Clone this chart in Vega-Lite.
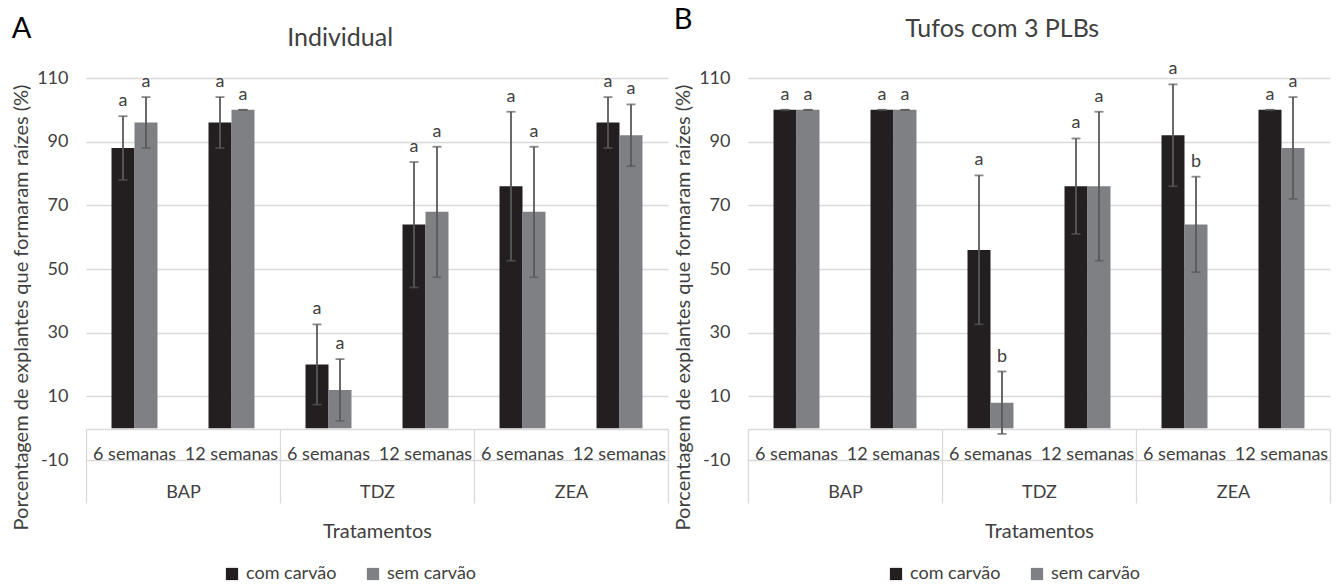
{
  "$schema": "https://vega.github.io/schema/vega-lite/v6.json",
  "padding": {"left": 11, "top": 6, "right": 4, "bottom": 0},
  "data": {"values": [
    {"panel":"A","treatment":"BAP","cell":"BAP|6 semanas","series":"com carvão","value":88,"low":78,"high":98,"letter":"a"},
    {"panel":"A","treatment":"BAP","cell":"BAP|6 semanas","series":"sem carvão","value":96,"low":88,"high":104,"letter":"a"},
    {"panel":"A","treatment":"BAP","cell":"BAP|12 semanas","series":"com carvão","value":96,"low":88,"high":104,"letter":"a"},
    {"panel":"A","treatment":"BAP","cell":"BAP|12 semanas","series":"sem carvão","value":100,"low":100,"high":100,"letter":"a"},
    {"panel":"A","treatment":"TDZ","cell":"TDZ|6 semanas","series":"com carvão","value":20,"low":7.4,"high":32.6,"letter":"a"},
    {"panel":"A","treatment":"TDZ","cell":"TDZ|6 semanas","series":"sem carvão","value":12,"low":2.3,"high":21.7,"letter":"a"},
    {"panel":"A","treatment":"TDZ","cell":"TDZ|12 semanas","series":"com carvão","value":64,"low":44.2,"high":83.6,"letter":"a"},
    {"panel":"A","treatment":"TDZ","cell":"TDZ|12 semanas","series":"sem carvão","value":68,"low":47.4,"high":88.4,"letter":"a"},
    {"panel":"A","treatment":"ZEA","cell":"ZEA|6 semanas","series":"com carvão","value":76,"low":52.6,"high":99.4,"letter":"a"},
    {"panel":"A","treatment":"ZEA","cell":"ZEA|6 semanas","series":"sem carvão","value":68,"low":47.4,"high":88.4,"letter":"a"},
    {"panel":"A","treatment":"ZEA","cell":"ZEA|12 semanas","series":"com carvão","value":96,"low":88,"high":104,"letter":"a"},
    {"panel":"A","treatment":"ZEA","cell":"ZEA|12 semanas","series":"sem carvão","value":92,"low":82.3,"high":101.7,"letter":"a"},
    {"panel":"B","treatment":"BAP","cell":"BAP|6 semanas","series":"com carvão","value":100,"low":100,"high":100,"letter":"a"},
    {"panel":"B","treatment":"BAP","cell":"BAP|6 semanas","series":"sem carvão","value":100,"low":100,"high":100,"letter":"a"},
    {"panel":"B","treatment":"BAP","cell":"BAP|12 semanas","series":"com carvão","value":100,"low":100,"high":100,"letter":"a"},
    {"panel":"B","treatment":"BAP","cell":"BAP|12 semanas","series":"sem carvão","value":100,"low":100,"high":100,"letter":"a"},
    {"panel":"B","treatment":"TDZ","cell":"TDZ|6 semanas","series":"com carvão","value":56,"low":32.6,"high":79.4,"letter":"a"},
    {"panel":"B","treatment":"TDZ","cell":"TDZ|6 semanas","series":"sem carvão","value":8,"low":-1.8,"high":17.8,"letter":"b"},
    {"panel":"B","treatment":"TDZ","cell":"TDZ|12 semanas","series":"com carvão","value":76,"low":61,"high":91,"letter":"a"},
    {"panel":"B","treatment":"TDZ","cell":"TDZ|12 semanas","series":"sem carvão","value":76,"low":52.6,"high":99.4,"letter":"a"},
    {"panel":"B","treatment":"ZEA","cell":"ZEA|6 semanas","series":"com carvão","value":92,"low":76,"high":108,"letter":"a"},
    {"panel":"B","treatment":"ZEA","cell":"ZEA|6 semanas","series":"sem carvão","value":64,"low":49,"high":79,"letter":"b"},
    {"panel":"B","treatment":"ZEA","cell":"ZEA|12 semanas","series":"com carvão","value":100,"low":100,"high":100,"letter":"a"},
    {"panel":"B","treatment":"ZEA","cell":"ZEA|12 semanas","series":"sem carvão","value":88,"low":72,"high":104,"letter":"a"}
  ]},
  "spacing": 4,
  "resolve": {"scale": {"color": "independent"}},
  "hconcat": [
    {
      "title": {"text": "A", "anchor": "start", "frame": "bounds", "fontSize": 29, "color": "#000000", "offset": -18},
      "resolve": {"scale": {"color": "independent"}},
      "vconcat": [
        {
          "width": 582, "height": 382,
          "title": {"text": "Individual", "anchor": "middle", "frame": "bounds", "fontSize": 25, "offset": 18},
          "transform": [{"filter": "datum.panel === 'A'"}],
          "resolve": {"scale": {"x": "independent"}, "axis": {"x": "independent"}},
          "layer": [
            {
              "encoding": {
                "x": {"field": "cell", "type": "nominal",
                  "scale": {"domain": ["BAP|6 semanas","BAP|12 semanas","TDZ|6 semanas","TDZ|12 semanas","ZEA|6 semanas","ZEA|12 semanas"], "paddingInner": 0.526, "paddingOuter": 0.263},
                  "axis": {"orient": "bottom", "offset": -31, "title": null, "domain": false, "ticks": false, "grid": false, "labelAngle": 0, "labelFontSize": 18, "labelBaseline": "alphabetic", "labelPadding": 30, "labelExpr": "split(datum.value, '|')[1]"}},
                "xOffset": {"field": "series", "type": "nominal", "scale": {"domain": ["com carvão","sem carvão"], "paddingInner": 0, "paddingOuter": 0}}
              },
              "layer": [
                {"mark": {"type": "bar"},
                 "encoding": {
                   "y": {"field": "value", "type": "quantitative", "title": "Porcentagem de explantes que formaram raízes (%)",
                     "scale": {"domain": [-10, 110]},
                     "axis": {"values": [-10,10,30,50,70,90,110], "labelExpr": "datum.value < 0 ? '-' + abs(datum.value) : datum.label", "grid": true, "gridColor": "#d9d9d9", "gridWidth": 1.3, "domain": false, "ticks": false, "labelFontSize": 18, "labelPadding": 18, "titleFontSize": 20, "titlePadding": 5, "titleY": 229}},
                   "color": {"field": "series", "type": "nominal", "scale": {"domain": ["com carvão","sem carvão"], "range": ["#231F20","#7F8083"]},
                     "legend": {"orient": "none", "legendX": 137, "legendY": 487, "direction": "horizontal", "title": null, "symbolType": "square", "symbolSize": 150, "symbolStrokeWidth": 0, "labelFontSize": 18, "labelColor": "#404040", "columnPadding": 27, "labelOffset": 5}}
                 }},
                {"mark": {"type": "rule", "color": "#595959", "strokeWidth": 1.8},
                 "encoding": {"y": {"field": "low", "type": "quantitative", "title": "Porcentagem de explantes que formaram raízes (%)"}, "y2": {"field": "high"}}},
                {"mark": {"type": "tick", "color": "#595959", "thickness": 1.8, "size": 9, "orient": "horizontal"},
                 "encoding": {"y": {"field": "low", "type": "quantitative", "title": "Porcentagem de explantes que formaram raízes (%)"}}},
                {"mark": {"type": "tick", "color": "#595959", "thickness": 1.8, "size": 9, "orient": "horizontal"},
                 "encoding": {"y": {"field": "high", "type": "quantitative", "title": "Porcentagem de explantes que formaram raízes (%)"}}},
                {"mark": {"type": "text", "dy": -10, "baseline": "alphabetic", "fontSize": 18, "color": "#404040"},
                 "encoding": {"y": {"field": "high", "type": "quantitative", "title": "Porcentagem de explantes que formaram raízes (%)"}, "text": {"field": "letter"}}}
              ]
            },
            {
              "mark": {"type": "tick", "opacity": 0},
              "encoding": {
                "x": {"field": "treatment", "type": "nominal",
                  "scale": {"domain": ["BAP","TDZ","ZEA"], "paddingInner": 0, "paddingOuter": 0},
                  "axis": {"orient": "bottom", "offset": -31, "title": "Tratamentos", "titleFontSize": 20, "titlePadding": 18, "domain": true, "domainColor": "#d9d9d9", "domainWidth": 1.3, "ticks": true, "tickBand": "extent", "tickSize": 74, "tickColor": "#d9d9d9", "tickWidth": 1.3, "grid": false, "labelAngle": 0, "labelFontSize": 18, "labelBaseline": "alphabetic", "labelPadding": -6}}
              }
            }
          ]
        }
      ]
    },
    {
      "title": {"text": "B", "anchor": "start", "frame": "bounds", "fontSize": 29, "color": "#000000", "offset": -18},
      "resolve": {"scale": {"color": "independent"}},
      "vconcat": [
        {
          "width": 582, "height": 382,
          "title": {"text": "Tufos com 3 PLBs", "anchor": "middle", "frame": "bounds", "fontSize": 25, "offset": 18},
          "transform": [{"filter": "datum.panel === 'B'"}],
          "resolve": {"scale": {"x": "independent"}, "axis": {"x": "independent"}},
          "layer": [
            {
              "encoding": {
                "x": {"field": "cell", "type": "nominal",
                  "scale": {"domain": ["BAP|6 semanas","BAP|12 semanas","TDZ|6 semanas","TDZ|12 semanas","ZEA|6 semanas","ZEA|12 semanas"], "paddingInner": 0.526, "paddingOuter": 0.263},
                  "axis": {"orient": "bottom", "offset": -31, "title": null, "domain": false, "ticks": false, "grid": false, "labelAngle": 0, "labelFontSize": 18, "labelBaseline": "alphabetic", "labelPadding": 30, "labelExpr": "split(datum.value, '|')[1]"}},
                "xOffset": {"field": "series", "type": "nominal", "scale": {"domain": ["com carvão","sem carvão"], "paddingInner": 0, "paddingOuter": 0}}
              },
              "layer": [
                {"mark": {"type": "bar"},
                 "encoding": {
                   "y": {"field": "value", "type": "quantitative", "title": "Porcentagem de explantes que formaram raízes (%)",
                     "scale": {"domain": [-10, 110]},
                     "axis": {"values": [-10,10,30,50,70,90,110], "labelExpr": "datum.value < 0 ? '-' + abs(datum.value) : datum.label", "grid": true, "gridColor": "#d9d9d9", "gridWidth": 1.3, "domain": false, "ticks": false, "labelFontSize": 18, "labelPadding": 18, "titleFontSize": 20, "titlePadding": 5, "titleY": 229}},
                   "color": {"field": "series", "type": "nominal", "scale": {"domain": ["com carvão","sem carvão"], "range": ["#231F20","#7F8083"]},
                     "legend": {"orient": "none", "legendX": 139, "legendY": 487, "direction": "horizontal", "title": null, "symbolType": "square", "symbolSize": 150, "symbolStrokeWidth": 0, "labelFontSize": 18, "labelColor": "#404040", "columnPadding": 27, "labelOffset": 5}}
                 }},
                {"mark": {"type": "rule", "color": "#595959", "strokeWidth": 1.8},
                 "encoding": {"y": {"field": "low", "type": "quantitative", "title": "Porcentagem de explantes que formaram raízes (%)"}, "y2": {"field": "high"}}},
                {"mark": {"type": "tick", "color": "#595959", "thickness": 1.8, "size": 9, "orient": "horizontal"},
                 "encoding": {"y": {"field": "low", "type": "quantitative", "title": "Porcentagem de explantes que formaram raízes (%)"}}},
                {"mark": {"type": "tick", "color": "#595959", "thickness": 1.8, "size": 9, "orient": "horizontal"},
                 "encoding": {"y": {"field": "high", "type": "quantitative", "title": "Porcentagem de explantes que formaram raízes (%)"}}},
                {"mark": {"type": "text", "dy": -10, "baseline": "alphabetic", "fontSize": 18, "color": "#404040"},
                 "encoding": {"y": {"field": "high", "type": "quantitative", "title": "Porcentagem de explantes que formaram raízes (%)"}, "text": {"field": "letter"}}}
              ]
            },
            {
              "mark": {"type": "tick", "opacity": 0},
              "encoding": {
                "x": {"field": "treatment", "type": "nominal",
                  "scale": {"domain": ["BAP","TDZ","ZEA"], "paddingInner": 0, "paddingOuter": 0},
                  "axis": {"orient": "bottom", "offset": -31, "title": "Tratamentos", "titleFontSize": 20, "titlePadding": 18, "domain": true, "domainColor": "#d9d9d9", "domainWidth": 1.3, "ticks": true, "tickBand": "extent", "tickSize": 74, "tickColor": "#d9d9d9", "tickWidth": 1.3, "grid": false, "labelAngle": 0, "labelFontSize": 18, "labelBaseline": "alphabetic", "labelPadding": -6}}
              }
            }
          ]
        }
      ]
    }
  ],
  "config": {
    "font": "Lato",
    "view": {"stroke": null},
    "axis": {"labelFont": "Lato", "titleFont": "Lato", "labelColor": "#404040", "titleColor": "#404040", "titleFontWeight": "normal"},
    "legend": {"labelFont": "Lato"},
    "title": {"font": "Lato", "fontWeight": "normal", "color": "#404040"}
  }
}
